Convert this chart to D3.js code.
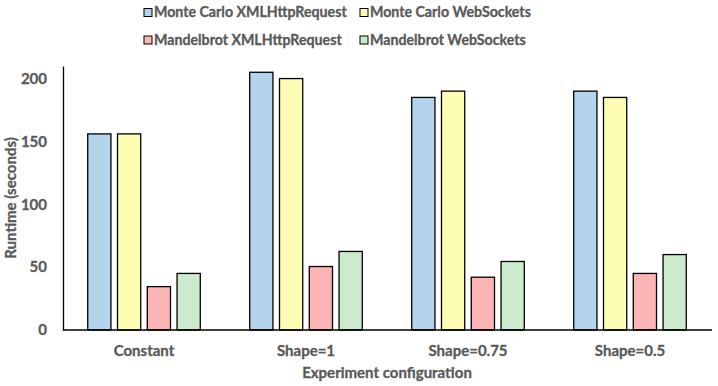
<!DOCTYPE html>
<html>
<head>
<meta charset="utf-8">
<script src="https://cdn.jsdelivr.net/npm/d3@7"></script>
<style>
  html, body { margin: 0; padding: 0; background: #fff; }
  svg text { font-family: Lato, "Open Sans", sans-serif; font-weight: bold; fill: #595959; stroke: #595959; stroke-width: 0.3px; }
</style>
</head>
<body>
<svg id="chart" width="718" height="386"></svg>
<script>
// data
var categories = ["Constant", "Shape=1", "Shape=0.75", "Shape=0.5"];
var seriesNames = ["Monte Carlo XMLHttpRequest", "Monte Carlo WebSockets",
                   "Mandelbrot XMLHttpRequest", "Mandelbrot WebSockets"];
var mcXhr = [156, 205, 185, 190];
var mcWs = [156, 200, 190, 185];
var mbXhr = [34.5, 50.5, 42, 45];
var mbWs = [45, 62.5, 54.5, 60];
var yTicks = [0, 50, 100, 150, 200];

var seriesValues = [mcXhr, mcWs, mbXhr, mbWs];
var colors = ["#b4d4ec", "#fdfdb4", "#fdb4b4", "#ccebcc"];

var svg = d3.select("#chart");

// scales
var x0 = d3.scaleBand()
    .domain(categories)
    .range([63, 711])
    .padding(0);

var x1 = d3.scaleBand()
    .domain(d3.range(seriesNames.length))
    .range([0, x0.bandwidth()])
    .paddingInner(0.22)
    .paddingOuter(0.83);

var y = d3.scaleLinear()
    .domain([0, 210])
    .range([330, 66]);

// bars
var groups = svg.append("g")
    .selectAll("g")
    .data(categories)
    .join("g")
    .attr("transform", d => `translate(${x0(d)},0)`);

groups.selectAll("rect")
    .data((c, i) => seriesValues.map((vals, s) => ({ s: s, v: vals[i] })))
    .join("rect")
    .attr("x", d => x1(d.s))
    .attr("width", x1.bandwidth())
    .attr("y", d => y(d.v))
    .attr("height", d => y(0) - y(d.v))
    .attr("fill", d => colors[d.s])
    .attr("stroke", "#000")
    .attr("stroke-width", 1.3);

// y axis
var yAxis = svg.append("g")
    .attr("transform", "translate(63,0)")
    .call(d3.axisLeft(y).tickValues(yTicks).tickSize(0).tickPadding(16));
yAxis.select(".domain").attr("stroke", "#000").attr("stroke-width", 1.3);
yAxis.selectAll("text").attr("font-size", 15).attr("font-family", null).attr("fill", null);

// x axis
var xAxis = svg.append("g")
    .attr("transform", "translate(0,330)")
    .call(d3.axisBottom(x0).tickSize(0).tickPadding(15));
xAxis.select(".domain").attr("stroke", "#000").attr("stroke-width", 1.3)
    .attr("d", "M63,0H712");
xAxis.selectAll("text").attr("font-size", 15).attr("font-family", null).attr("fill", null);

// axis titles
svg.append("text")
    .attr("x", 387)
    .attr("y", 378)
    .attr("text-anchor", "middle")
    .attr("font-size", 15)
    .text("Experiment configuration");

svg.append("text")
    .attr("transform", "translate(16,198) rotate(-90)")
    .attr("text-anchor", "middle")
    .attr("font-size", 15)
    .text("Runtime (seconds)");

// legend
var legendCols = [144, 360];
var legendRows = [12.5, 40];
var legend = svg.append("g")
    .selectAll("g")
    .data(seriesNames)
    .join("g")
    .attr("transform", (d, i) => `translate(${legendCols[i % 2]},${legendRows[Math.floor(i / 2)]})`);

legend.append("rect")
    .attr("x", 0)
    .attr("y", -4)
    .attr("width", 8)
    .attr("height", 8)
    .attr("fill", (d, i) => colors[i])
    .attr("stroke", "#000")
    .attr("stroke-width", 1);

legend.append("text")
    .attr("x", 10)
    .attr("y", 0)
    .attr("dy", "0.35em")
    .attr("font-size", 14.2)
    .text(d => d);
</script>
</body>
</html>
